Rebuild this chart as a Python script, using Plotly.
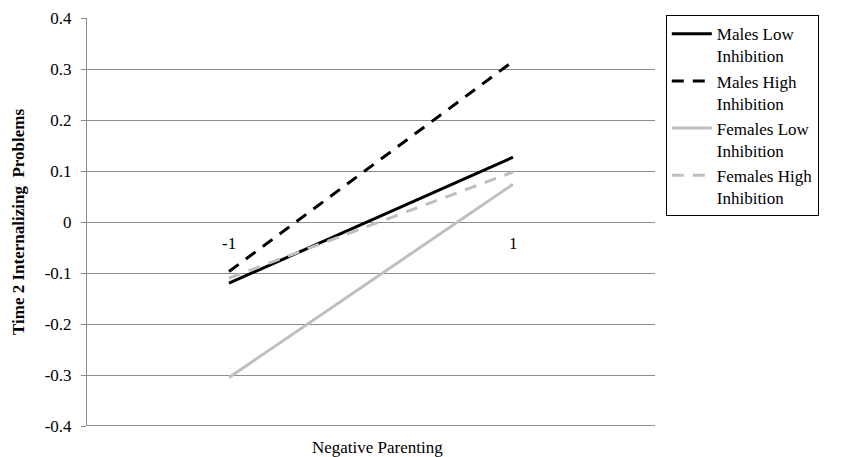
import plotly.graph_objects as go

x_vals = [-1, 1]
x_labels = ["-1", "1"]
males_low = [-0.12, 0.127]
males_high = [-0.097, 0.315]
females_low = [-0.305, 0.074]
females_high = [-0.11, 0.098]
y_ticks = [-0.4, -0.3, -0.2, -0.1, 0, 0.1, 0.2, 0.3, 0.4]
y_tick_text = ["-0.4", "-0.3", "-0.2", "-0.1", "0", "0.1", "0.2", "0.3", "0.4"]

FONT = "Liberation Serif, Times New Roman, serif"

fig = go.Figure()
series = [
    ("Males Low<br>Inhibition", males_low, "black", "solid"),
    ("Males High<br>Inhibition", males_high, "black", "12px,9px"),
    ("Females Low<br>Inhibition", females_low, "#bfbfbf", "solid"),
    ("Females High<br>Inhibition", females_high, "#bfbfbf", "12px,9px"),
]
for name, ys, col, dash in series:
    fig.add_trace(go.Scatter(x=x_vals, y=ys, mode="lines", name=name,
                             line=dict(color=col, width=3, dash=dash)))

for xv, lab in zip(x_vals, x_labels):
    fig.add_annotation(x=xv, y=-0.042, text=lab, showarrow=False, xref="x", yref="y",
                       font=dict(family=FONT, size=17, color="black"))

fig.add_annotation(x=-0.1215, y=0.5, xref="paper", yref="paper", showarrow=False,
                   text="<b>Time 2 Internalizing  Problems</b>", textangle=-90,
                   xanchor="center", yanchor="middle",
                   font=dict(family=FONT, size=17, color="black"))
fig.add_annotation(x=0.512, y=-0.052, xref="paper", yref="paper", showarrow=False,
                   text="Negative Parenting", xanchor="center", yanchor="middle",
                   font=dict(family=FONT, size=17, color="black"))

fig.update_layout(
    width=836, height=449,
    margin=dict(l=79, r=189, t=10, b=31, autoexpand=False),
    paper_bgcolor="white", plot_bgcolor="white",
    font=dict(family=FONT, size=17, color="black"),
    showlegend=True,
    legend=dict(x=1.019, y=1.007, xanchor="left", yanchor="top",
                bordercolor="black", borderwidth=1, bgcolor="white",
                font=dict(family=FONT, size=17, color="black"),
                tracegroupgap=0, itemwidth=40, valign="top"),
    xaxis=dict(range=[-2, 2], showticklabels=False, showgrid=False, zeroline=False,
               showline=False, automargin=False),
    yaxis=dict(range=[-0.4, 0.4], tickvals=y_ticks, ticktext=y_tick_text,
               showgrid=True, gridcolor="#8c8c8c", gridwidth=1, automargin=False,
               zeroline=False, showline=True, linecolor="#8c8c8c", linewidth=1,
               ticks="outside", ticklen=5, tickcolor="#8c8c8c",
               ticklabelstandoff=6,
               tickfont=dict(family=FONT, size=17, color="black")),
)
fig.add_shape(type="line", xref="paper", yref="y", x0=0, x1=1, y0=-0.4, y1=-0.4,
              line=dict(color="#6e6e6e", width=1.5))

fig.write_html("out.html")
